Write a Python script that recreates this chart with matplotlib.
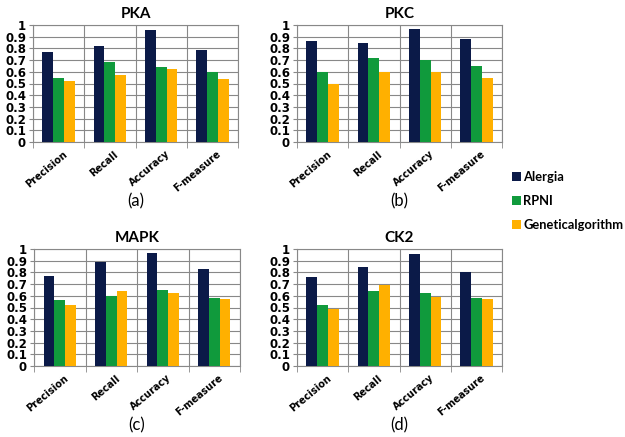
import matplotlib.pyplot as plt
import numpy as np

metrics = ['Precision', 'Recall', 'Accuracy', 'F-measure']
methods = ['Alergia', 'RPNI', 'Geneticalgorithm']
colors = ['#0b1a48', '#109a3c', '#ffb000']

panels = ['PKA', 'PKC', 'MAPK', 'CK2']
letters = ['(a)', '(b)', '(c)', '(d)']

# values per panel: rows = methods, cols = metrics
pka = [[0.77, 0.82, 0.96, 0.79],
       [0.55, 0.68, 0.64, 0.60],
       [0.52, 0.57, 0.62, 0.54]]
pkc = [[0.86, 0.85, 0.97, 0.88],
       [0.60, 0.72, 0.70, 0.65],
       [0.50, 0.60, 0.60, 0.55]]
mapk = [[0.77, 0.89, 0.97, 0.83],
        [0.56, 0.60, 0.65, 0.58],
        [0.52, 0.64, 0.62, 0.57]]
ck2 = [[0.76, 0.85, 0.96, 0.80],
       [0.52, 0.64, 0.62, 0.58],
       [0.49, 0.69, 0.59, 0.57]]
data = [pka, pkc, mapk, ck2]

W, H = 625, 437
fig = plt.figure(figsize=(W / 100, H / 100), dpi=100)

# axes boxes in pixels: left, top, right, bottom
boxes = [(33, 25, 238, 142), (297, 25, 502, 142),
         (34, 249, 240, 366), (297, 249, 502, 366)]

bw = 0.21
x = np.arange(len(metrics))
for k, (name, vals) in enumerate(zip(panels, data)):
    l, t, r, b = boxes[k]
    ax = fig.add_axes([l / W, 1 - b / H, (r - l) / W, (b - t) / H])
    for i, m in enumerate(methods):
        ax.bar(x + (i - 1) * bw, vals[i], bw, color=colors[i], label=m, zorder=3)
    ax.set_xlim(-0.5, len(metrics) - 0.5)
    ax.set_ylim(0, 1)
    ax.set_yticks(np.arange(0, 1.01, 0.1))
    ax.set_yticklabels(['0'] + ['%.1f' % v for v in np.arange(0.1, 0.95, 0.1)] + ['1'],
                       fontsize=8.5, fontweight='bold', family='DejaVu Sans')
    ax.set_xticks(x + 0.08)
    ax.set_xticklabels(metrics, rotation=40, ha='right', rotation_mode='anchor',
                       fontsize=7, fontweight='bold', family='DejaVu Sans')
    ax.tick_params(axis='x', which='major', length=0, pad=5)
    ax.set_xticks(np.arange(-0.5, len(metrics)), minor=True)
    ax.tick_params(axis='x', which='minor', length=4, color='#888888')
    ax.tick_params(axis='y', length=3, color='#888888', pad=2)
    ax.grid(axis='y', color='#888888', lw=0.8, zorder=0)
    ax.grid(axis='x', which='minor', color='#888888', lw=0.8, zorder=0)
    for s in ax.spines.values():
        s.set_color('#888888')
        s.set_linewidth(0.8)
    ax.set_title(name, fontsize=11, fontweight='bold', family='Lato', pad=5)
    cx = (l + r) / 2 / W
    fig.text(cx, 1 - (b + 59) / H, letters[k], ha='center', va='center',
             fontsize=12, family='Lato')
    if k == 0:
        handles, labels = ax.get_legend_handles_labels()

fig.legend(handles, labels, loc='upper left', bbox_to_anchor=(500 / W, 1 - 159 / H),
           frameon=False, handlelength=0.7, handleheight=0.7, handletextpad=0.2,
           labelspacing=0.95, prop={'family': 'Lato', 'weight': 'bold', 'size': 9.3})

fig.savefig('out.png', dpi=100, facecolor='white')
